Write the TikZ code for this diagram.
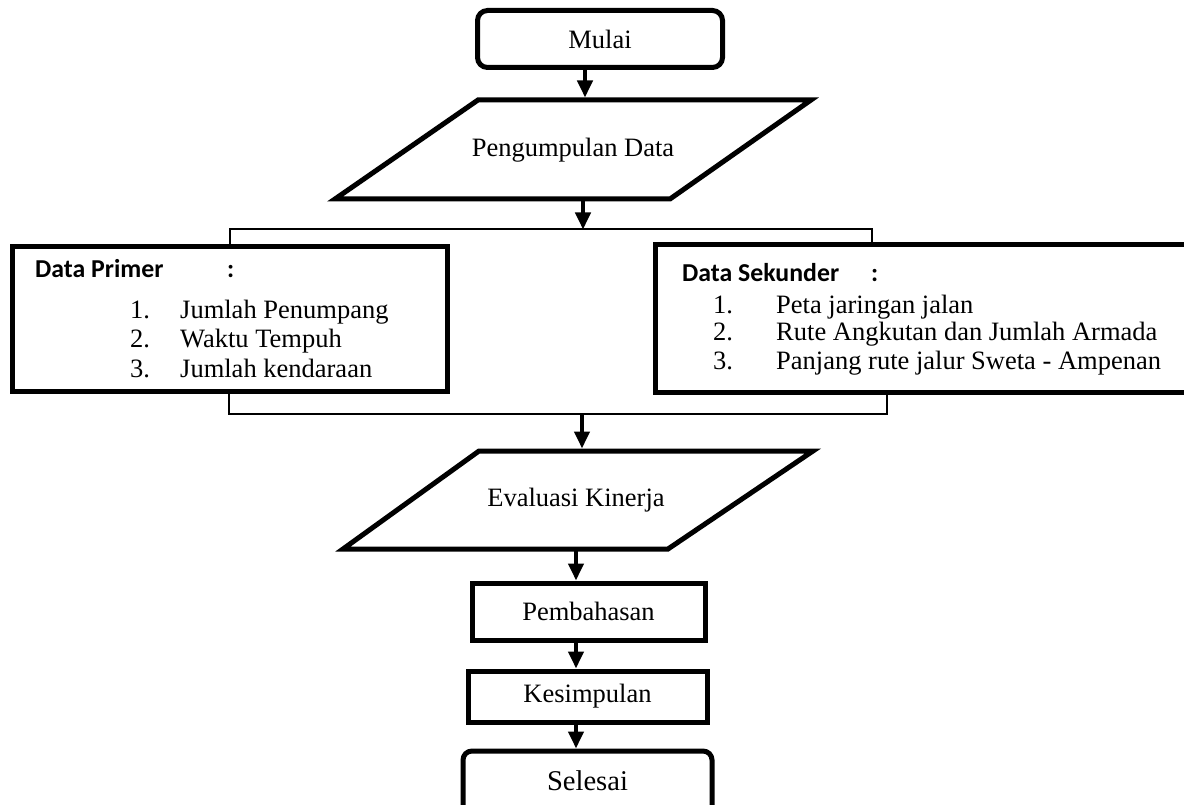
\documentclass[tikz,border=0pt]{standalone}
\usepackage{fontspec}
\setmainfont{Liberation Serif}
\newfontfamily\headfont{Carlito}
\usetikzlibrary{arrows.meta}
\begin{document}
\begin{tikzpicture}[x=1pt,y=-1pt,
  box/.style={draw,line width=5pt,inner sep=0pt,font=\fontsize{26.5}{30}\selectfont},
  shapeline/.style={draw,line width=5pt,line join=miter},
  txt/.style={inner sep=0pt,font=\fontsize{26.5}{30}\selectfont},
  headtxt/.style={inner sep=0pt,anchor=base west,font=\headfont\bfseries\fontsize{25.8}{30}\selectfont},
  itemtxt/.style={inner sep=0pt,anchor=base west,font=\fontsize{26.5}{30}\selectfont},
  arr/.style={line width=4pt,-{Triangle[length=17pt,width=15pt]}},
  conn/.style={line width=1.3pt}]
\useasboundingbox (0,0) rectangle (1184,805);
% start
\node[box,rounded corners=10pt,minimum width=245pt,minimum height=57pt] (mulai) at (600,39) {Mulai};
% data collection
\draw[shapeline] (478,100) -- (811,100) -- (670,199) -- (335,199) -- cycle;
\node[txt] (pd) at (573,150) {Pengumpulan Data};
\coordinate (pdT) at (585,97.5);
\coordinate (pdB) at (583,199);
\draw[arr] (mulai.south -| pdT) -- (pdT);
\coordinate (split) at (583,229.5);
\draw[arr] (pdB) -- (split);
% data boxes
\node[box,minimum width=435pt,minimum height=144pt] (prim) at (229.5,319) {};
\node[box,minimum width=540pt,minimum height=147pt] (sek) at (925,318.5) {};
\coordinate (sL) at (230,229);
\coordinate (sR) at (872,229);
\draw[conn] (prim.north -| sL) -- (sL) -- (sR) -- (sek.north -| sR);
\coordinate (jL) at (229,414);
\coordinate (jR) at (887,414);
\draw[conn] (prim.south -| jL) -- (jL) -- (jR) -- (sek.south -| jR);
% primer text
\node[headtxt] (ph) at (35,277) {Data Primer};
\node[headtxt] (pc) at (227,277) {:};
\node[itemtxt] (p1n) at (130,318) {1.};
\node[itemtxt] (p1) at (180,318) {Jumlah Penumpang};
\node[itemtxt] (p2n) at (130,347) {2.};
\node[itemtxt] (p2) at (180,347) {Waktu Tempuh};
\node[itemtxt] (p3n) at (130,377) {3.};
\node[itemtxt] (p3) at (180,377) {Jumlah kendaraan};
% sekunder text
\node[headtxt] (sh) at (682,281) {Data Sekunder};
\node[headtxt] (sc) at (871,281) {:};
\node[itemtxt] (s1n) at (713,313) {1.};
\node[itemtxt] (s1) at (776,313) {Peta jaringan jalan};
\node[itemtxt] (s2n) at (713,341) {2.};
\node[itemtxt] (s2) at (776,341) {Rute Angkutan dan Jumlah Armada};
\node[itemtxt] (s3n) at (713,369) {3.};
\node[itemtxt] (s3) at (776,369) {Panjang rute jalur Sweta - Ampenan};
% evaluation
\coordinate (jM) at (582,414);
\coordinate (evT) at (582,448.5);
\draw[arr] (jM) -- (evT);
\draw[shapeline] (479,451) -- (813,451) -- (668,549) -- (343,549) -- cycle;
\node[txt] (ev) at (576,500) {Evaluasi Kinerja};
\coordinate (evB) at (576,549);
% rest
\node[box,minimum width=233pt,minimum height=57pt] (pb) at (588.5,611.5) {Pembahasan};
\node[box,minimum width=239pt,minimum height=51pt] (ks) at (587.5,696.5) {Kesimpulan};
\node[box,rounded corners=9pt,minimum width=249pt,minimum height=76pt] (sl) at (587.5,789) {};
\node[txt,font=\fontsize{28.6}{32}\selectfont] (slt) at (587.5,781) {Selesai};
\draw[arr] (evB) -- (pb.north -| evB);
\draw[arr] (pb.south -| evB) -- (ks.north -| evB);
\draw[arr] (ks.south -| evB) -- (sl.north -| evB);
\end{tikzpicture}
\end{document}
